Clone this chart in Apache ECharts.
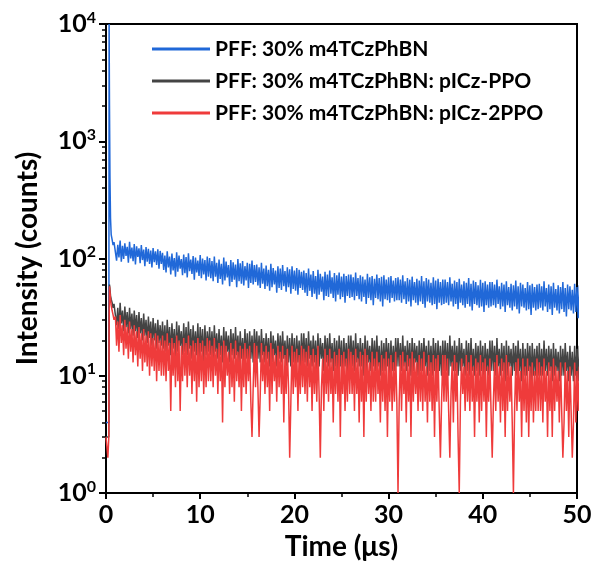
<!DOCTYPE html>
<html>
<head>
<meta charset="utf-8">
<script src="https://cdn.jsdelivr.net/npm/echarts@6/dist/echarts.min.js"></script>
<style>
html,body{margin:0;padding:0;background:#fff;}
#c{width:596px;height:576px;}
</style>
</head>
<body>
<div id="c"></div>
<script>
// Series names
const names = [
  'PFF: 30% m4TCzPhBN',
  'PFF: 30% m4TCzPhBN: pICz-PPO',
  'PFF: 30% m4TCzPhBN: pICz-2PPO'
];
// Early times (µs) around the excitation pulse
const earlyT = [0, 0.2, 0.3, 0.33, 0.37, 0.42, 0.48, 0.55, 0.65, 0.75, 0.85];
const blueEarly = [4, 4, 4, 10000, 2000, 500, 220, 160, 145, 130, 138];
const grayEarly = [3, 3, 3, 30, 60, 55, 48, 45, 42, 38, 41];
const redEarly  = [3, 2, 3, 25, 58, 52, 45, 40, 36, 33, 30];
// Tail: channels from 1.0 µs, 0.125 µs apart (each row of 40 = 5 µs)
const tailStart = 1.0, tailStep = 0.125;
const blueTail = [
  138,96,131,102,142,94,128,99,135,105,126,92,139,100,124,95,133,89,127,103,
  122,91,130,97,119,86,125,94,121,90,117,84,123,93,115,88,120,82,116,90,
  112,80,106,76,115,84,104,73,110,79,101,70,113,77,106,82,99,72,108,75,
  103,69,111,78,98,74,105,66,102,76,96,71,107,68,100,73,97,65,104,70,
  101,68,95,64,104,70,92,62,98,67,90,60,102,65,94,69,88,58,97,63,
  93,66,89,57,99,64,91,61,95,59,86,65,92,56,90,62,96,60,88,63,
  89,59,84,56,92,61,82,55,87,58,80,53,90,57,83,60,79,51,86,56,
  82,54,88,58,78,52,84,57,81,50,86,55,79,53,83,49,80,56,77,54,
  79,51,75,48,82,53,73,47,78,50,71,45,80,49,74,52,70,44,77,48,
  73,47,79,50,69,46,75,43,72,49,76,45,70,47,74,42,71,48,73,46,
  73,47,69,44,76,48,68,45,72,43,70,47,66,41,74,46,69,44,71,40,
  67,46,73,45,68,43,70,39,72,45,66,44,69,42,71,46,65,43,68,44,
  69,44,66,42,72,45,64,41,68,43,66,39,70,44,63,42,67,40,65,43,
  71,41,64,38,68,43,66,42,62,40,69,41,65,37,67,42,63,40,66,41,
  66,42,63,40,69,43,61,39,65,41,63,37,67,42,60,40,64,38,62,41,
  68,39,61,36,65,41,63,40,59,38,66,39,62,35,64,40,60,38,63,39,
  63,40,60,38,66,41,58,37,62,39,60,35,64,40,57,38,61,36,59,39,
  65,37,58,34,62,39,60,38,56,36,63,37,59,33,61,38,57,36,60,37,
  61,38,58,36,64,39,56,35,60,37,58,33,62,38,55,36,59,34,57,37,
  63,35,56,32,60,37,58,36,54,34,61,35,57,31,59,36,55,34,58,35
];
const grayTail = [
  41,27,38,25,42,28,36,24,39,26,35,23,38,25,34,22,36,24,33,21,
  35,23,31,20,34,22,30,19,32,21,29,18,31,20,28,17,30,19,27,18,
  29,17,27,16,30,18,26,15,28,17,25,14,29,16,27,18,24,15,28,16,
  26,15,29,17,25,14,27,16,24,15,28,14,26,16,25,13,27,15,24,16,
  26,15,24,14,27,16,23,14,25,15,22,13,26,14,24,16,22,13,25,15,
  23,14,26,15,22,13,24,14,21,13,25,14,23,12,24,14,22,13,25,14,
  24,14,22,13,25,15,21,13,23,14,21,12,24,13,22,15,20,12,23,14,
  22,13,24,14,20,12,22,13,21,12,23,13,21,11,22,13,20,12,23,13,
  23,13,21,12,24,14,20,12,22,13,20,11,23,12,21,14,19,11,22,13,
  21,12,23,13,19,11,21,12,20,11,22,12,20,10,21,12,19,11,22,12,
  22,12,20,11,23,13,19,12,21,12,19,10,22,11,20,13,18,11,21,12,
  20,11,22,12,18,10,20,11,19,11,21,12,19,10,20,11,18,11,21,12,
  21,12,19,11,22,12,18,11,20,12,19,10,21,11,19,13,18,10,20,11,
  19,11,21,12,18,10,20,11,18,10,21,11,19,10,20,11,18,10,20,11,
  20,11,19,10,22,12,18,11,20,11,18,10,21,11,19,12,17,10,20,11,
  19,10,21,11,17,10,19,11,18,10,20,11,18,9,19,11,17,10,20,11,
  20,11,18,10,21,12,17,10,19,11,18,9,20,10,18,12,17,10,19,11,
  18,10,20,11,17,9,19,10,17,10,19,11,18,9,19,10,17,10,18,10,
  19,10,17,10,20,11,17,10,18,11,17,9,19,10,17,11,16,9,18,10,
  17,10,19,11,16,9,18,10,16,9,18,10,17,9,18,10,16,9,17,10
];
const redTail = [
  32,18,29,16,33,19,27,15,30,17,26,14,29,16,25,13,27,15,24,12,
  26,14,23,11,25,13,22,12,24,10,23,12,21,11,23,9,22,11,20,10,
  22,10,20,9,23,11,19,5,21,10,19,8,22,9,20,5,18,9,21,10,
  19,8,22,10,18,7,20,9,19,6,21,8,19,9,20,7,18,8,21,9,
  20,9,18,8,21,10,17,7,19,9,18,4,20,8,18,10,16,7,19,8,
  17,6,20,9,16,8,18,5,17,8,19,7,17,9,18,6,3,8,19,8,
  18,8,3,7,19,9,16,7,18,8,16,5,19,7,17,9,15,6,18,8,
  16,7,18,4,15,7,17,8,2,6,18,7,16,8,17,5,15,7,18,8,
  17,7,16,6,18,8,15,5,17,7,15,6,18,7,2,8,14,5,17,7,
  15,6,17,7,14,4,16,7,15,6,17,3,15,7,16,5,14,6,17,7,
  16,7,15,5,17,7,14,4,16,6,15,3,17,6,15,7,13,5,16,6,
  14,6,16,7,13,4,15,6,14,5,16,3,14,6,15,5,13,6,16,6,
  1,6,15,5,16,7,13,4,15,6,14,3,16,6,14,7,13,5,15,6,
  14,5,16,6,12,4,15,6,13,5,15,3,14,6,15,5,2,6,15,6,
  15,6,14,5,2,7,13,4,15,6,13,3,1,6,14,7,12,5,15,6,
  13,5,15,6,12,3,14,6,13,4,15,5,13,6,14,3,12,6,14,5,
  2,6,13,5,15,6,12,4,14,5,13,3,15,5,13,6,12,4,1,5,
  13,5,14,6,11,3,14,5,12,4,14,3,12,5,13,4,11,5,14,5,
  13,5,12,4,14,6,11,3,13,5,12,3,14,5,12,6,11,4,13,5,
  2,4,13,5,11,3,12,5,2,4,13,4,11,5,12,3,11,5,12,5
];
const xTicks = [0, 10, 20, 30, 40, 50];
const yMinor = [2,3,4,5,6,7,8,9,20,30,40,50,60,70,80,90,200,300,400,500,600,700,800,900,2000,3000,4000,5000,6000,7000,8000,9000];

function build(early, tail) {
  const d = earlyT.map((t, i) => [t, early[i]]);
  tail.forEach((v, i) => d.push([+(tailStart + tailStep * i).toFixed(3), v]));
  return d;
}
const colors = ['#2068d8', '#444444', '#ef3b3b'];
const FONT = 'Lato';
const chart = echarts.init(document.getElementById('c'), null, {renderer: 'canvas'});
const expMap = {1: '0', 10: '1', 100: '2', 1000: '3', 10000: '4'};
chart.setOption({
  animation: false,
  backgroundColor: '#fff',
  grid: {left: 106, right: 19, top: 24, bottom: 83, show: true, borderColor: '#000', borderWidth: 2, backgroundColor: 'transparent'},
  legend: {
    orient: 'vertical', left: 147, top: 33,
    itemWidth: 58, itemHeight: 14, itemGap: 10,
    icon: 'path://M0,6L58,6L58,9L0,9Z',
    textStyle: {fontFamily: FONT, fontWeight: 'bold', fontSize: 21, lineHeight: 22, color: '#000'},
    data: names
  },
  xAxis: {
    type: 'value', min: 0, max: 50, interval: 10,
    name: 'Time (μs)', nameLocation: 'middle', nameGap: 40,
    nameTextStyle: {fontFamily: FONT, fontWeight: 'bold', fontSize: 28, color: '#000'},
    axisLine: {lineStyle: {color: '#000', width: 2}},
    axisTick: {show: true, length: 6, lineStyle: {width: 2, color: '#000'}},
    minorTick: {show: true, splitNumber: 2, length: 4, lineStyle: {width: 1.5, color: '#000'}},
    splitLine: {show: false},
    axisLabel: {fontFamily: FONT, fontWeight: 'bold', fontSize: 25, color: '#000', margin: 9,
      customValues: xTicks}
  },
  yAxis: [{
    type: 'log', logBase: 10, min: 1, max: 10000,
    name: 'Intensity (counts)', nameLocation: 'middle', nameGap: 64,
    nameTextStyle: {fontFamily: FONT, fontWeight: 'bold', fontSize: 28, color: '#000'},
    axisLine: {show: true, lineStyle: {color: '#000', width: 2}},
    axisTick: {show: true, length: 7, lineStyle: {width: 2, color: '#000'}},
    splitLine: {show: false},
    axisLabel: {
      margin: 10,
      formatter: v => '{b|10}{s|' + (expMap[Math.round(v)] ?? '') + '}',
      rich: {
        b: {fontFamily: FONT, fontWeight: 'bold', fontSize: 25, color: '#000'},
        s: {fontFamily: FONT, fontWeight: 'bold', fontSize: 16, color: '#000', padding: [0, 0, 13, 0]}
      }
    }
  }, {
    type: 'log', logBase: 10, min: 1, max: 10000, position: 'left',
    axisLine: {show: false},
    axisLabel: {show: false},
    splitLine: {show: false},
    axisTick: {show: true, length: 4, customValues: yMinor, lineStyle: {width: 1.5, color: '#000'}}
  }],
  series: [
    {name: names[0], type: 'line', data: build(blueEarly, blueTail), symbol: 'none', lineStyle: {width: 1.5, color: colors[0]}, itemStyle: {color: colors[0]}, z: 2},
    {name: names[1], type: 'line', data: build(grayEarly, grayTail), symbol: 'none', lineStyle: {width: 1.5, color: colors[1]}, itemStyle: {color: colors[1]}, z: 3},
    {name: names[2], type: 'line', data: build(redEarly, redTail), symbol: 'none', lineStyle: {width: 1.5, color: colors[2]}, itemStyle: {color: colors[2]}, z: 4}
  ]
});
</script>
</body>
</html>
